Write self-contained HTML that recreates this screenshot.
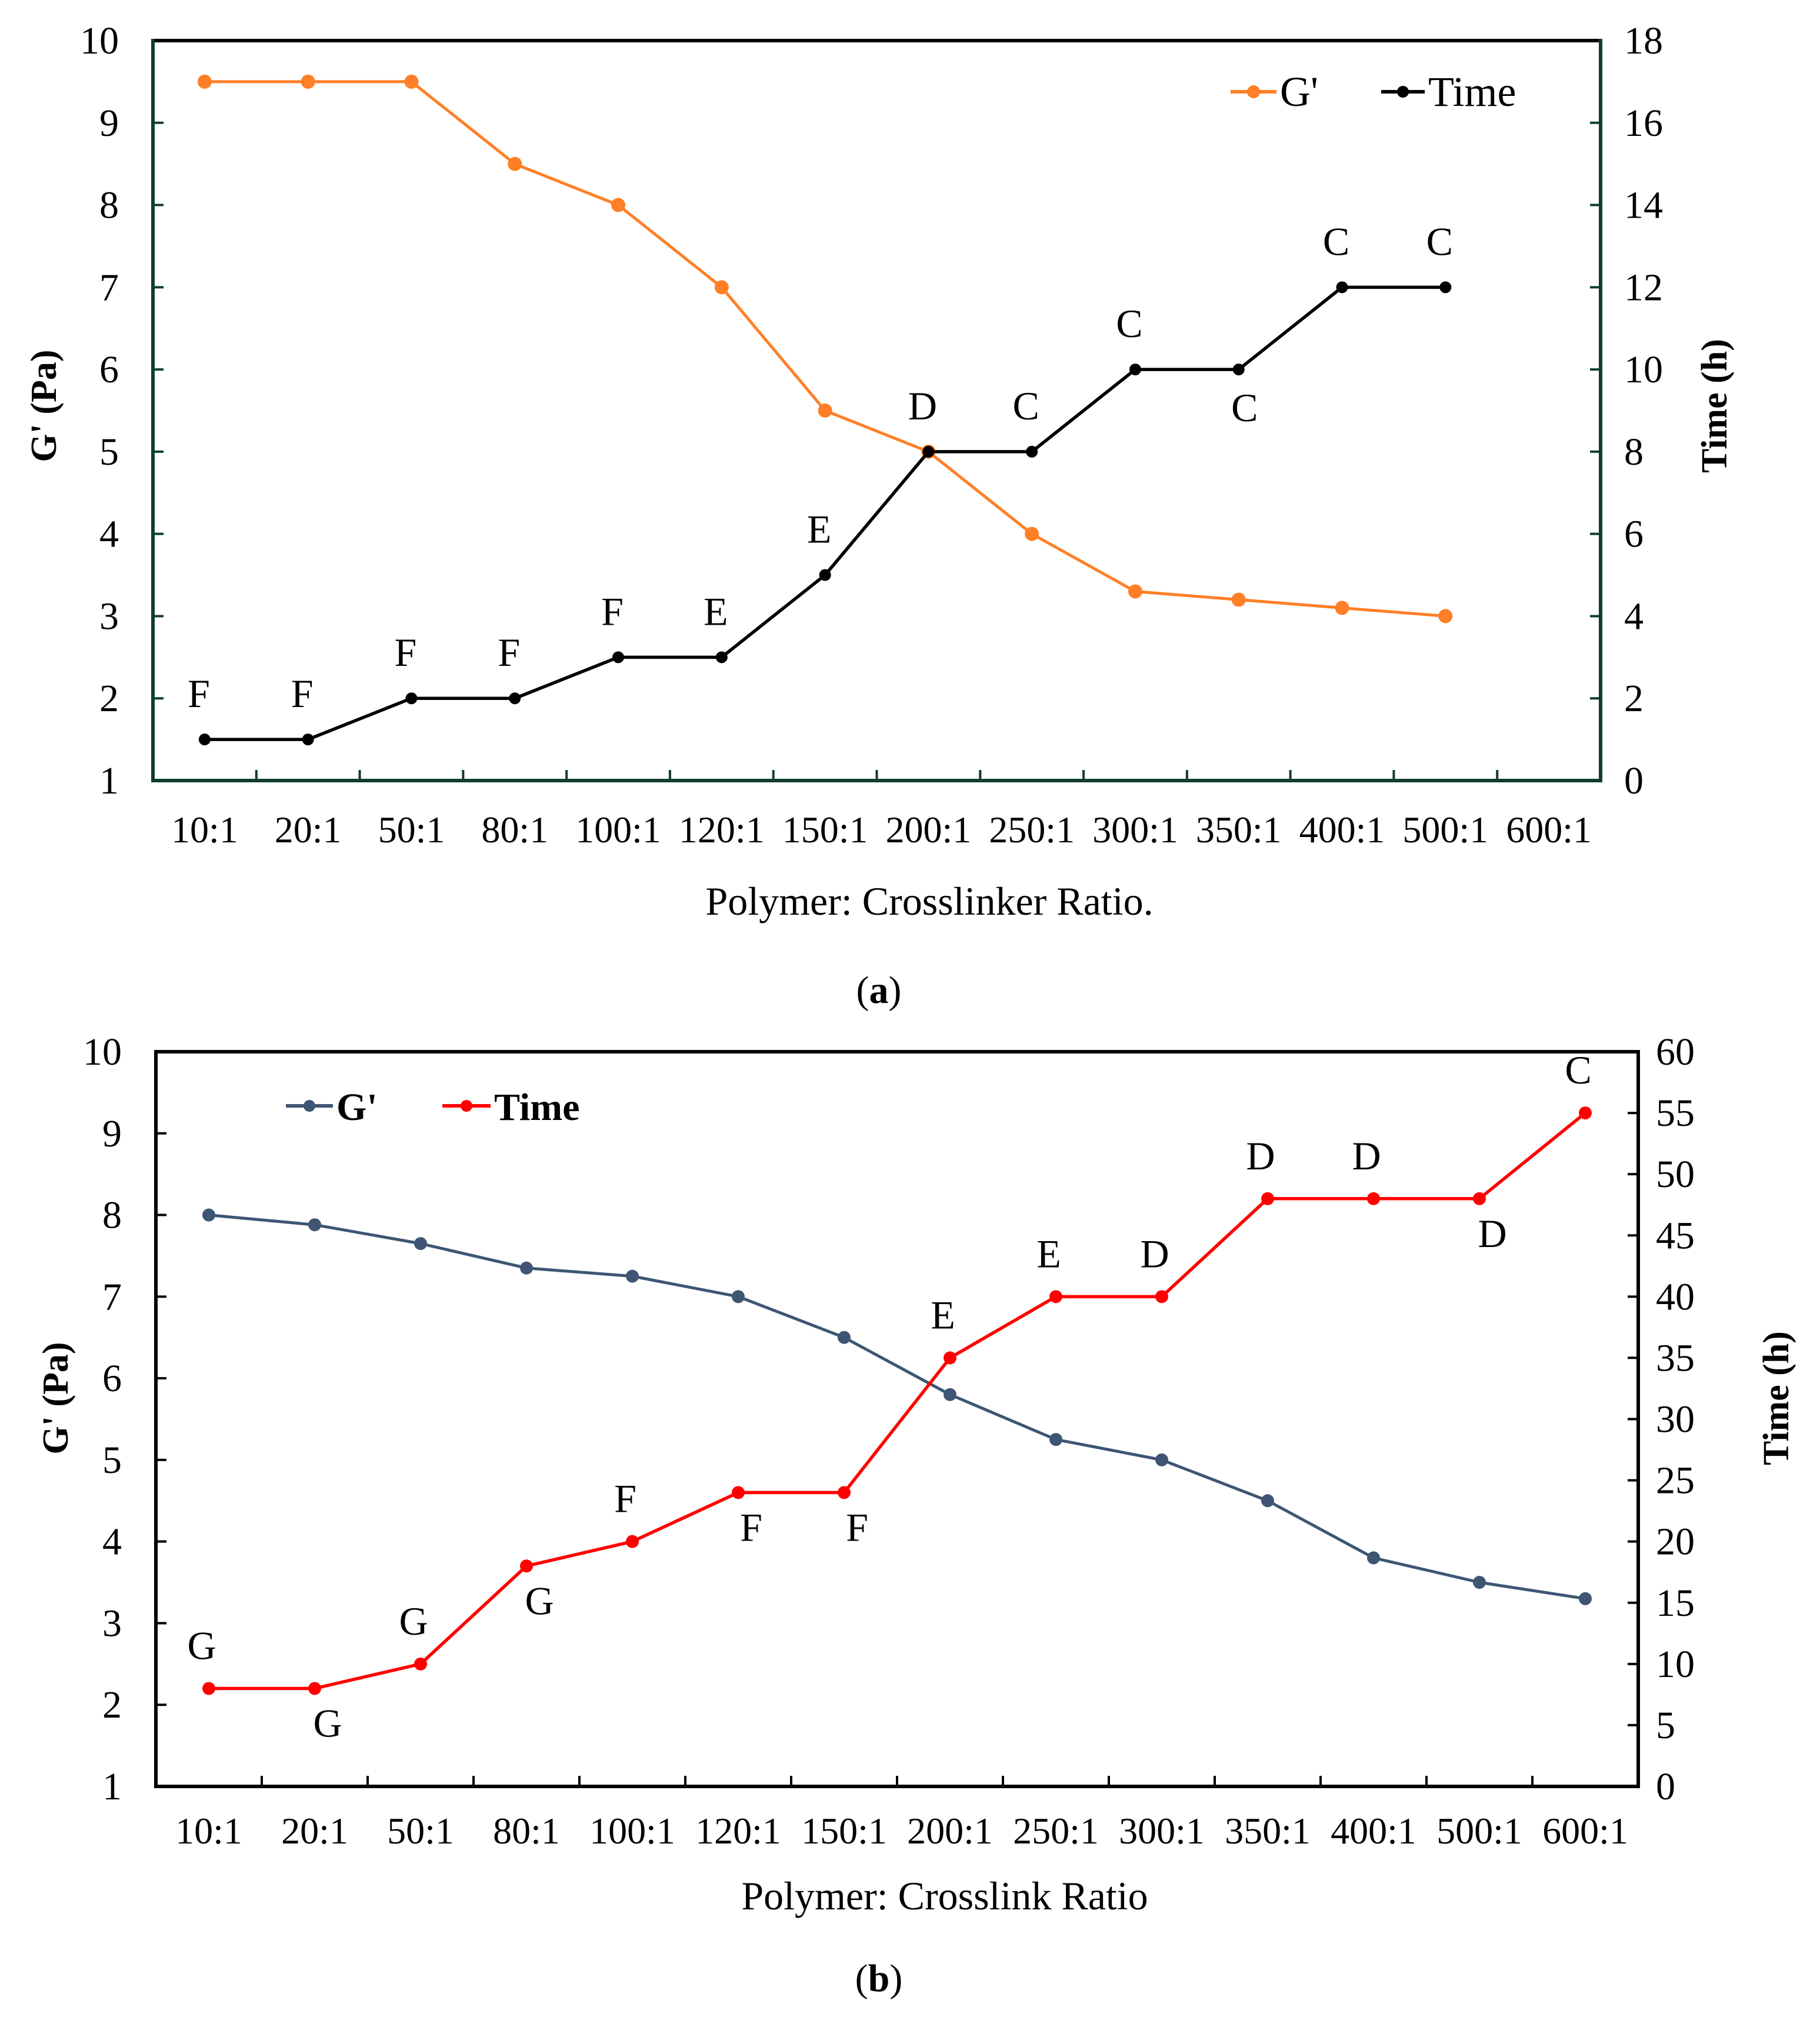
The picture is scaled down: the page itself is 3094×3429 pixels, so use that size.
<!DOCTYPE html>
<html><head><meta charset="utf-8"><style>
html,body{margin:0;padding:0;background:#fff;}
svg{display:block;font-family:"Liberation Serif","Times New Roman",serif;}
</style></head><body>
<svg id="svg" width="3094" height="3429" viewBox="0 0 3094 3429" xmlns="http://www.w3.org/2000/svg"></svg>
<script>
const categoriesA = ["10:1","20:1","50:1","80:1","100:1","120:1","150:1","200:1","250:1","300:1","350:1","400:1","500:1","600:1"];
const gPrimeA = [9.5,9.5,9.5,8.5,8,7,5.5,5,4,3.3,3.2,3.1,3.0];
const timeA = [1,1,2,2,3,3,5,8,8,10,10,12,12];
const lettersA = ["F","F","F","F","F","E","E","D","C","C","C","C","C"];
const letterSideA = ["up","up","up","up","up","up","up","up","up","up","down","up","up"];
const leftTicksA = [1,2,3,4,5,6,7,8,9,10];
const rightTicksA = [0,2,4,6,8,10,12,14,16,18];

const categoriesB = ["10:1","20:1","50:1","80:1","100:1","120:1","150:1","200:1","250:1","300:1","350:1","400:1","500:1","600:1"];
const gPrimeB = [8,7.88,7.65,7.35,7.25,7,6.5,5.8,5.25,5,4.5,3.8,3.5,3.3];
const timeB = [8,8,10,18,20,24,24,35,40,40,48,48,48,55];
const lettersB = ["G","G","G","G","F","F","F","E","E","D","D","D","D","C"];
const letterSideB = ["up","down","up","down","up","down","down","up","up","up","up","up","down","up"];
const leftTicksB = [1,2,3,4,5,6,7,8,9,10];
const rightTicksB = [0,5,10,15,20,25,30,35,40,45,50,55,60];

const svg = document.getElementById('svg');
const NS = "http://www.w3.org/2000/svg";
function mk(tag, attrs, parent, text){
  const e = document.createElementNS(NS, tag);
  for (const k in attrs) e.setAttribute(k, attrs[k]);
  if (text !== undefined) e.textContent = text;
  (parent||svg).appendChild(e);
  return e;
}

function drawChart(o){
  const g = mk('g', {});
  
  
  const L=o.left,R=o.right,T=o.top,B=o.bottom;
  const n=o.cats.length, cw=(R-L)/n;
  const xc=i=>L+cw*(i+0.5);
  const yl=v=>B-(v-o.lmin)/(o.lmax-o.lmin)*(B-T);
  const yr=v=>B-(v-o.rmin)/(o.rmax-o.rmin)*(B-T);
  const top = mk('line',{x1:L,y1:T,x2:R,y2:T,stroke:o.topColor,'stroke-width':6},g);
  
  
  const la = mk('line',{x1:L,y1:T-3,x2:L,y2:B+3,stroke:o.axisColor,'stroke-width':6},g);
  
  
  const ra = mk('line',{x1:R,y1:T-3,x2:R,y2:B+3,stroke:o.axisColor,'stroke-width':6},g);
  
  
  const xa = mk('line',{x1:L-3,y1:B,x2:R+3,y2:B,stroke:o.axisColor,'stroke-width':6},g);
  
  
  o.lticks.forEach(v=>{
    const y=yl(v);
    if (v!==o.lmin && v!==o.lmax) mk('line',{x1:L,y1:y,x2:L+18,y2:y,stroke:o.axisColor,'stroke-width':4},g);
    const t=mk('text',{x:L-58,y:y+22,'text-anchor':'end','font-size':66},g,String(v));
    
    
  });
  o.rticks.forEach(v=>{
    const y=yr(v);
    if (v!==o.rmin && v!==o.rmax) mk('line',{x1:R-18,y1:y,x2:R,y2:y,stroke:o.axisColor,'stroke-width':4},g);
    const t=mk('text',{x:R+o.rLabelGap,y:y+22,'text-anchor':'start','font-size':66},g,String(v));
    
    
  });
  for(let i=1;i<n;i++){
    mk('line',{x1:L+cw*i,y1:B,x2:L+cw*i,y2:B-18,stroke:o.axisColor,'stroke-width':4},g);
  }
  o.cats.forEach((c,i)=>{
    const t=mk('text',{x:xc(i),y:o.xLabelY,'text-anchor':'middle','font-size':64},g,c);
    
    
  });
  function series(vals, yf, color, r, w, name){
    const pts=vals.map((v,i)=>xc(i)+','+yf(v)).join(' ');
    const pl=mk('polyline',{points:pts,fill:'none',stroke:color,'stroke-width':w,'stroke-linejoin':'round'},g);
    
    
    vals.forEach((v,i)=>{
      const c=mk('circle',{cx:xc(i),cy:yf(v),r:r,fill:color},g);
      
      
    });
  }
  series(o.g, yl, o.gColor, o.gR, 5, 'g-prime');
  series(o.t, yr, o.tColor, o.tR, 5.5, 'time');
  o.letters.forEach((s,i)=>{
    const y = yr(o.t[i]) + (o.sides[i]==='up' ? -o.upOff : o.downOff);
    const dx = o.sides[i]==='up' ? o.upDx : o.downDx;
    const t=mk('text',{x:xc(i)+dx,y:y,'text-anchor':'middle','font-size':68},g,s);
    
    
  });
  const lt=mk('text',{x:o.lTitleX,y:o.midY,'text-anchor':'middle','font-size':62,'font-weight':'bold',transform:`rotate(-90 ${o.lTitleX} ${o.midY})`},g,"G' (Pa)");
  
  
  const rt=mk('text',{x:o.rTitleX,y:o.midY,'text-anchor':'middle','font-size':62,'font-weight':'bold',transform:`rotate(-90 ${o.rTitleX} ${o.midY})`},g,"Time (h)");
  
  
  const xt=mk('text',{x:o.xTitleX,y:o.xTitleY,'text-anchor':'middle','font-size':68},g,o.xTitle);
  
  
  const cap=mk('text',{x:1494,y:o.capY,'text-anchor':'middle','font-size':66},g,'');
  
  
  mk('tspan',{},cap,'(');
  mk('tspan',{'font-weight':'bold'},cap,o.cap);
  mk('tspan',{},cap,')');
  const lg=mk('g',{},g);
  
  
  o.legend.forEach(e=>{
    mk('line',{x1:e.x1,y1:o.legY,x2:e.x2,y2:o.legY,stroke:e.color,'stroke-width':6},lg);
    mk('circle',{cx:(e.x1+e.x2)/2,cy:o.legY,r:e.r,fill:e.color},lg);
    const t=mk('text',{x:e.x2+6,y:o.legY+24,'font-size':o.legSize,'font-weight':o.legBold?'bold':'normal'},lg,e.label);
    
    
  });
}

drawChart({name:'chart-a',left:260,right:2721,top:69,bottom:1327,cats:categoriesA,
  lmin:1,lmax:10,rmin:0,rmax:18,lticks:leftTicksA,rticks:rightTicksA,
  g:gPrimeA,t:timeA,letters:lettersA,sides:letterSideA,
  gColor:'#FF7F27',tColor:'#000',gR:12,tR:10,axisColor:'#0f3d30',topColor:'#000',
  rLabelGap:40,xLabelY:1432,upOff:55,downOff:88,upDx:-10,downDx:10,
  lTitleX:95,rTitleX:2935,midY:690,xTitle:'Polymer: Crosslinker Ratio.',xTitleX:1580,xTitleY:1555,
  cap:'a',capY:1705,legY:156,legBold:false,legSize:72,
  legend:[{x1:2092,x2:2170,color:'#FF7F27',r:11,label:"G'"},{x1:2348,x2:2422,color:'#000',r:10,label:'Time'}]});

drawChart({name:'chart-b',left:265,right:2785,top:1788,bottom:3037,cats:categoriesB,
  lmin:1,lmax:10,rmin:0,rmax:60,lticks:leftTicksB,rticks:rightTicksB,
  g:gPrimeB,t:timeB,letters:lettersB,sides:letterSideB,
  gColor:'#3E5573',tColor:'#FF0000',gR:11,tR:11,axisColor:'#000',topColor:'#000',
  rLabelGap:30,xLabelY:3134,upOff:50,downOff:82,upDx:-12,downDx:22,
  lTitleX:115,rTitleX:3040,midY:2377,xTitle:'Polymer: Crosslink Ratio',xTitleX:1606,xTitleY:3246,
  cap:'b',capY:3385,legY:1880,legBold:true,legSize:66,
  legend:[{x1:486,x2:566,color:'#3E5573',r:10,label:"G'"},{x1:752,x2:834,color:'#FF0000',r:10,label:'Time'}]});
</script>
</body></html>
